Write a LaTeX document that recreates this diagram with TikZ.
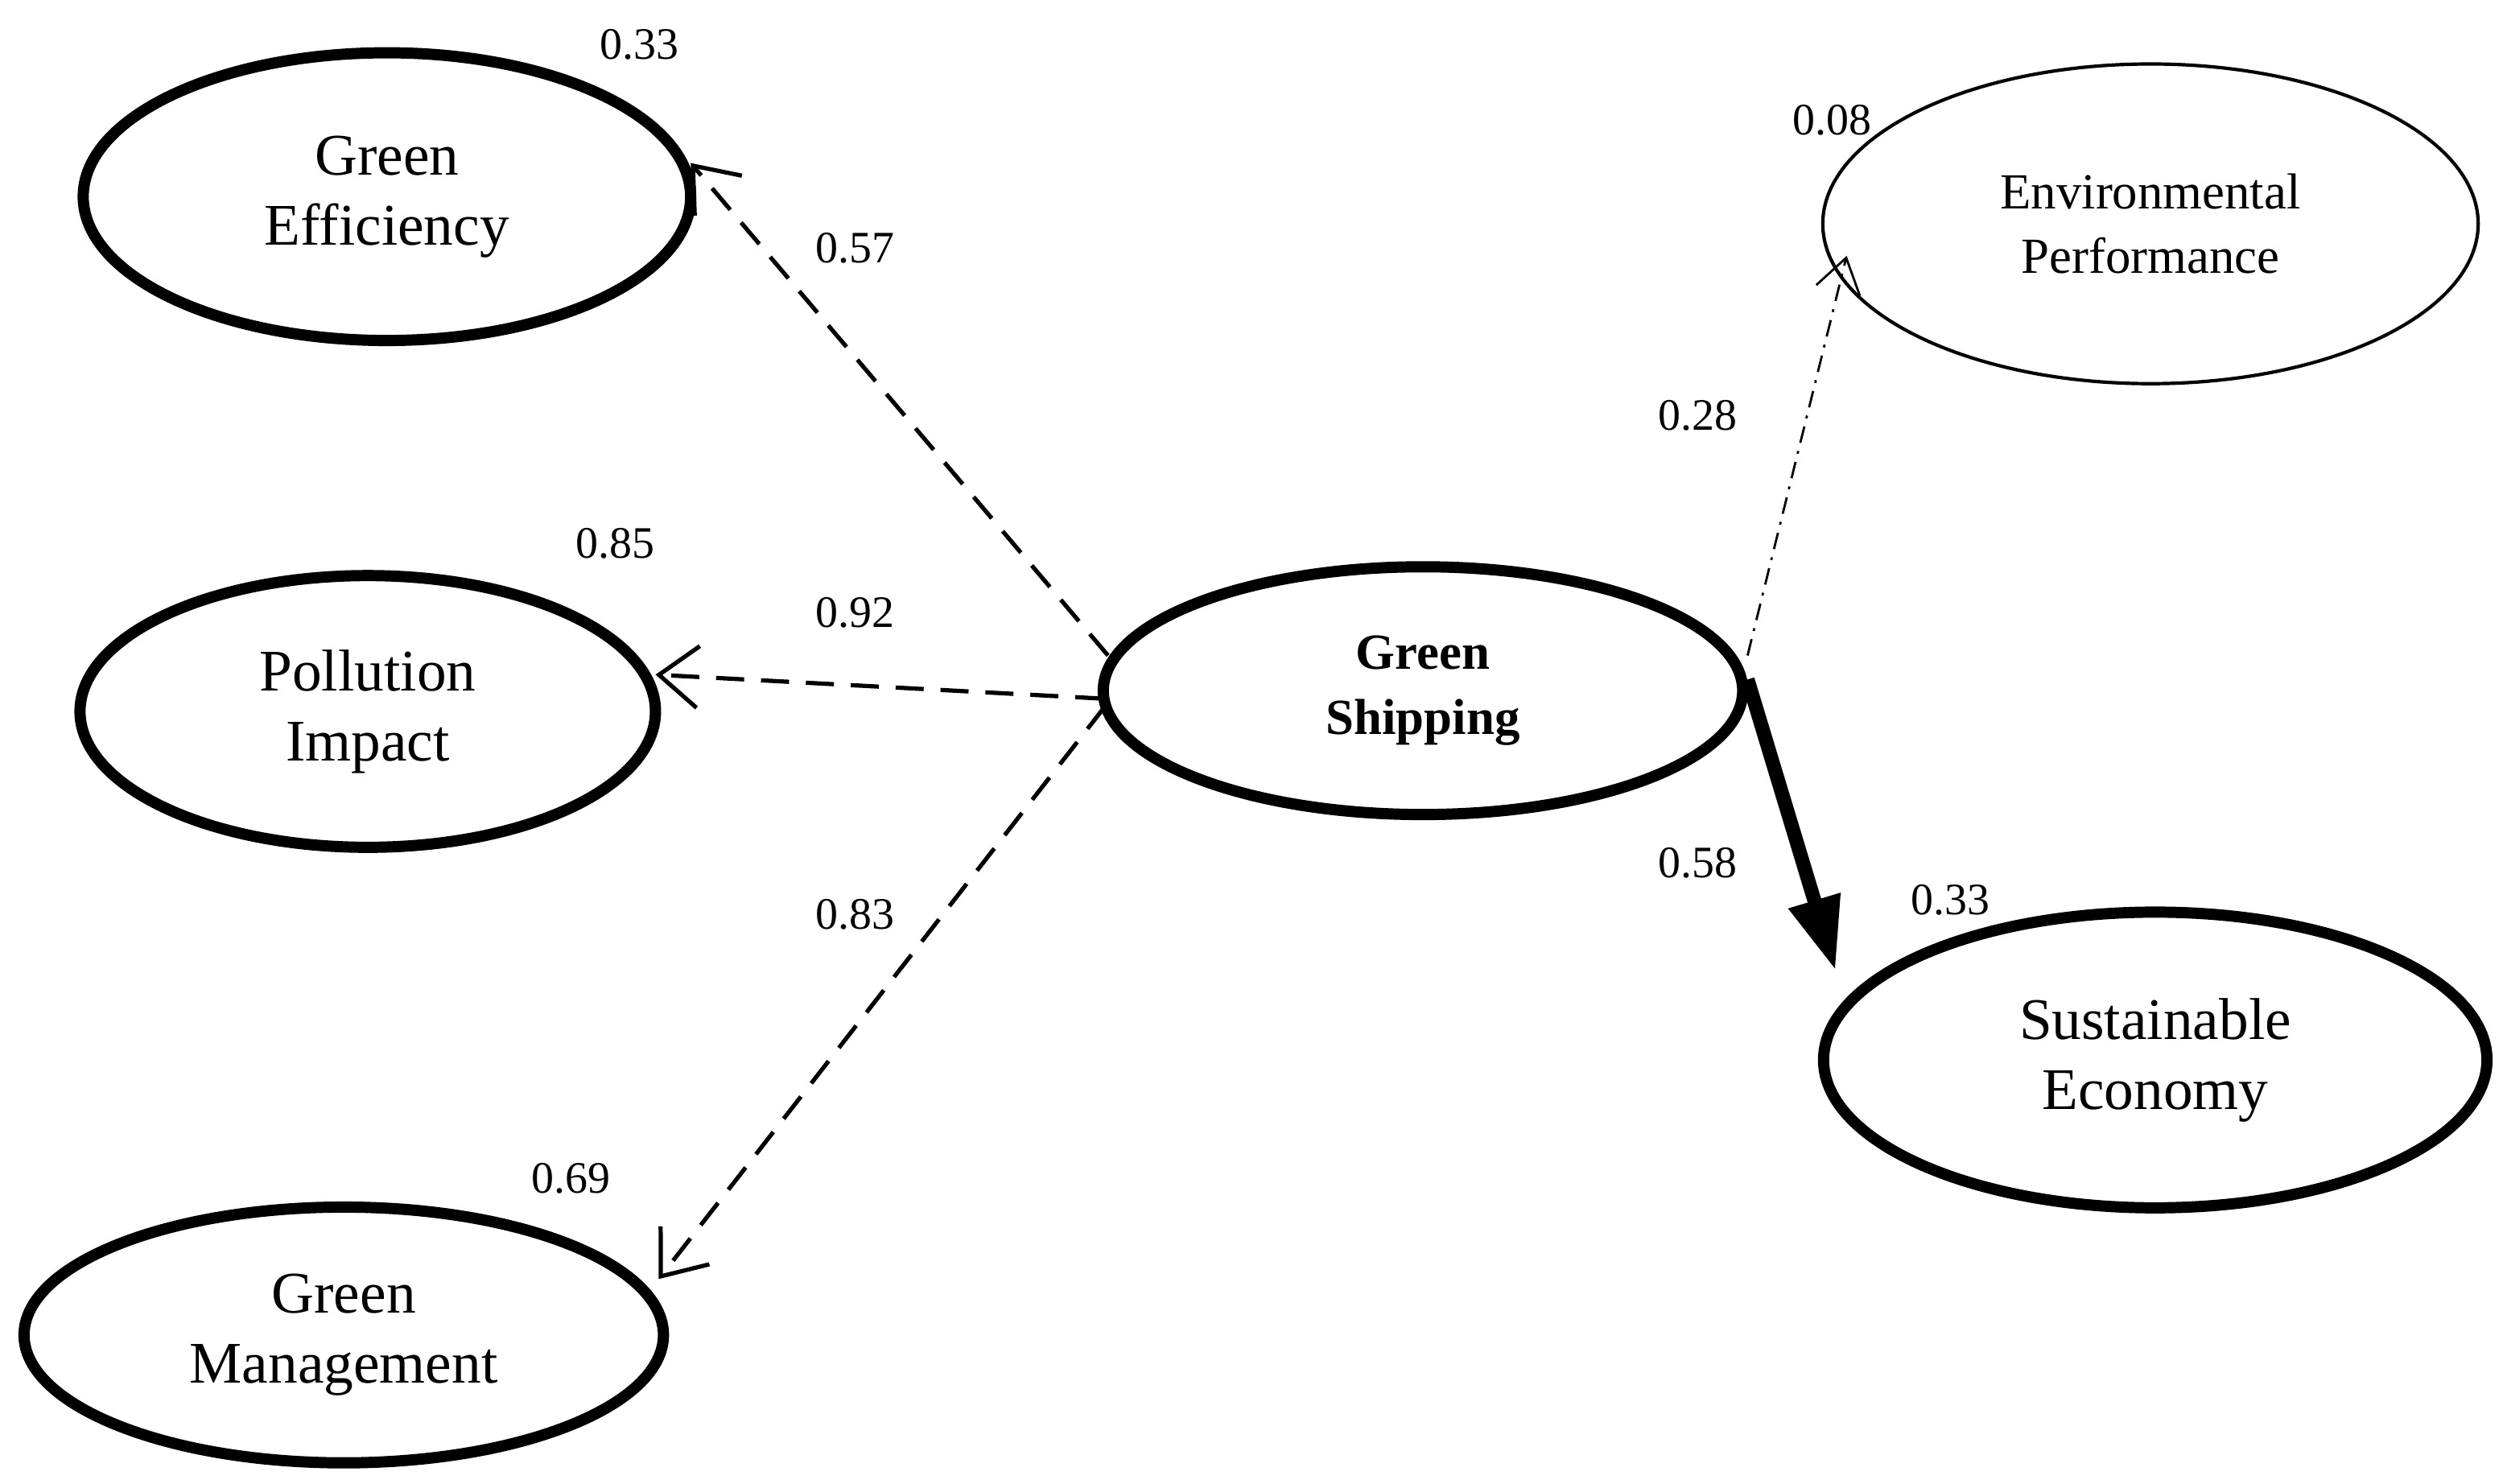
\documentclass[tikz,border=0pt]{standalone}
\usepackage{fontspec}
\setmainfont{Liberation Serif}
\usetikzlibrary{arrows.meta,shapes.geometric}
\begin{document}
\begin{tikzpicture}[x=0.02cm,y=-0.02cm,
  lat/.style={draw,ellipse,line width=4pt,inner sep=0pt,align=center,font=\fontsize{21}{25}\selectfont},
  num/.style={font=\fontsize{16}{19}\selectfont},
  dar/.style={-{Straight Barb[length=14pt,width=22pt]},line width=1.5pt,dash pattern=on 10pt off 6pt}]
\useasboundingbox (0,0) rectangle (1568,928);
\node[lat,minimum width=7.6cm,minimum height=3.6cm] (ge) at (242,123) {Green\\Efficiency};
\node[lat,minimum width=7.2cm,minimum height=3.4cm] (pi) at (230,445) {Pollution\\Impact};
\node[lat,minimum width=8cm,minimum height=3.2cm] (gm) at (215,835) {Green\\Management};
\node[lat,minimum width=8cm,minimum height=3.1cm,font=\fontsize{18}{23}\selectfont\bfseries] (gs) at (890,432) {Green\\Shipping};
\node[lat,line width=1.2pt,minimum width=8.2cm,minimum height=4cm,font=\fontsize{18}{23}\selectfont] (ep) at (1345,140) {Environmental\\Performance};
\node[lat,minimum width=8.3cm,minimum height=3.7cm] (se) at (1348,663) {Sustainable\\Economy};
\coordinate (g1) at (693,410); \coordinate (g2) at (690,437); \coordinate (g3) at (691,442);
\coordinate (g4) at (1093,410); \coordinate (g5) at (1093,425);
\coordinate (t1) at (432,102); \coordinate (t2) at (410,422); \coordinate (t3) at (412,800);
\coordinate (t4) at (1155,160); \coordinate (t5) at (1148,607);
\draw[dar] (g1) -- (t1);
\draw[dar] (g2) -- (t2);
\draw[dar] (g3) -- (t3);
\draw[-{Straight Barb[length=12pt,width=16pt]},line width=0.8pt,dash pattern=on 6pt off 3pt on 1pt off 3pt] (g4) -- (t4);
\draw[-{Triangle[length=26pt,width=18pt]},line width=5pt] (g5) -- (t5);
\node[num] (n1) at (400,28) {0.33};
\node[num] (n2) at (535,155) {0.57};
\node[num] (n3) at (385,340) {0.85};
\node[num] (n4) at (535,383) {0.92};
\node[num] (n5) at (535,572) {0.83};
\node[num] (n6) at (357,737) {0.69};
\node[num] (n7) at (1146,75) {0.08};
\node[num] (n8) at (1062,260) {0.28};
\node[num] (n9) at (1062,540) {0.58};
\node[num] (n10) at (1220,563) {0.33};
\end{tikzpicture}
\end{document}
